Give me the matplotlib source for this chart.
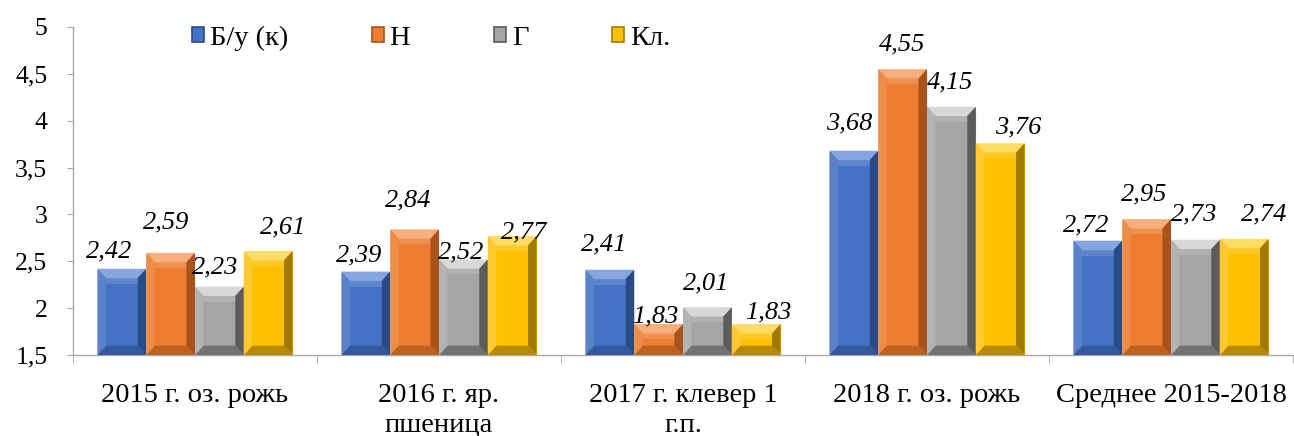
import matplotlib
matplotlib.use('Agg')
import matplotlib.pyplot as plt
from matplotlib.patches import Polygon, Patch
import numpy as np

plt.rcParams['font.family'] = ['Liberation Serif', 'DejaVu Serif']

# data
categories = ['2015 г. оз. рожь', '2016 г. яр.\nпшеница', '2017 г. клевер 1\nг.п.',
              '2018 г. оз. рожь', 'Среднее 2015-2018']
series_names = ['Б/у (к)', 'Н', 'Г', 'Кл.']
bu_k = [2.42, 2.39, 2.41, 3.68, 2.72]
n_vals = [2.59, 2.84, 1.83, 4.55, 2.95]
g_vals = [2.23, 2.52, 2.01, 4.15, 2.73]
kl_vals = [2.61, 2.77, 1.83, 3.76, 2.74]
y_ticks = [1.5, 2, 2.5, 3, 3.5, 4, 4.5, 5]

# colours: face, top, left, right, bottom
palettes = [
    ('#4472C4', '#86A6DE', '#5B83CC', '#2B4B87', '#33599B'),
    ('#ED7D31', '#F6AE7C', '#EF8C48', '#A8531B', '#BC6222'),
    ('#A5A5A5', '#D8D8D8', '#B3B3B3', '#5C5C5C', '#727272'),
    ('#FFC000', '#FFDC66', '#FFC933', '#A37A00', '#B88A00'),
]

# label offsets (pixels) relative to the top centre of each bar
label_dx = [[-13, -7, -6, -5, -12],
            [-4, -6, -3, 0, -2],
            [-4, -2, -1, -1, -1],
            [15, 12, 12, 18, 20]]
label_dy = [[17, 16, 25, 27, 15],
            [30, 29, 8, 25, 25],
            [19, 7, 24, 24, 25],
            [24, 4, 12, 16, 24]]

fig = plt.figure(figsize=(12.94, 4.36), dpi=100)
ax = fig.add_axes([73 / 1294, 1 - 355 / 436, 1220 / 1294, 328 / 436])

x = np.arange(len(categories))
width = 0.2
base = 1.5
bx, by = 0.035, 0.1


def bevel_bar(rect, pal):
    x0, y0 = rect.get_x(), rect.get_y()
    w, h = rect.get_width(), rect.get_height()
    x1, y1 = x0 + w, y0 + h
    b = min(by, h / 2)
    parts = [
        ([(x0, y1), (x1, y1), (x1 - bx, y1 - b), (x0 + bx, y1 - b)], pal[1]),
        ([(x0, y0), (x1, y0), (x1 - bx, y0 + b), (x0 + bx, y0 + b)], pal[4]),
        ([(x0, y0), (x0, y1), (x0 + bx, y1 - b), (x0 + bx, y0 + b)], pal[2]),
        ([(x1, y0), (x1, y1), (x1 - bx, y1 - b), (x1 - bx, y0 + b)], pal[3]),
    ]
    for pts, col in parts:
        ax.add_patch(Polygon(pts, closed=True, facecolor=col, edgecolor='none', zorder=3))
    # soft highlight on the face just below the top bevel
    hl = min(0.06, max(h - 2 * b, 0) / 2)
    ax.add_patch(Polygon([(x0 + bx, y1 - b), (x1 - bx, y1 - b), (x1 - bx, y1 - b - hl),
                          (x0 + bx, y1 - b - hl)], closed=True,
                         facecolor='white', alpha=0.15, edgecolor='none', zorder=3))


all_series = [bu_k, n_vals, g_vals, kl_vals]
for i, vals in enumerate(all_series):
    pos = x + (i - 1.5) * width
    heights = [v - base for v in vals]
    bars = ax.bar(pos, heights, width=width, bottom=base, color=palettes[i][0],
                  edgecolor='white', linewidth=0.6, zorder=2)
    for j, rect in enumerate(bars):
        bevel_bar(rect, palettes[i])
        ax.annotate(f'{vals[j]:.2f}'.replace('.', ','),
                    (rect.get_x() + rect.get_width() / 2, vals[j]),
                    xytext=(label_dx[i][j], label_dy[i][j]), textcoords='offset pixels',
                    ha='center', va='center', fontsize=19, style='italic', zorder=5)

ax.set_xlim(-0.5, len(categories) - 0.5)
ax.set_ylim(1.5, 5)
ax.set_yticks(y_ticks)
ax.set_yticklabels([f'{t:g}'.replace('.', ',') for t in y_ticks], fontsize=18.5)
ax.set_xticks(x)
ax.set_xticklabels(categories, fontsize=20.5, linespacing=1.25, va='top')
ax.set_xticks(np.arange(len(categories) + 1) - 0.5, minor=True)
ax.tick_params(axis='x', which='major', length=0, pad=20)
ax.tick_params(axis='x', which='minor', length=6, color='#A6A6A6', direction='out')
ax.tick_params(axis='y', length=4.5, color='#A6A6A6', pad=14)

for side in ['top', 'right']:
    ax.spines[side].set_visible(False)
for side in ['left', 'bottom']:
    ax.spines[side].set_color('#A6A6A6')
    ax.spines[side].set_linewidth(1.0)

handles = [Patch(facecolor=p[0], edgecolor=p[3], linewidth=1.2) for p in palettes]
fig.legend(handles, series_names, loc='center left', bbox_to_anchor=(192 / 1294, 1 - 38 / 436),
           ncol=4, frameon=False, fontsize=20.5, handlelength=0.42, handleheight=0.42,
           handletextpad=0.2, columnspacing=2.95, borderpad=0, borderaxespad=0)

fig.savefig('out.png', dpi=100)
